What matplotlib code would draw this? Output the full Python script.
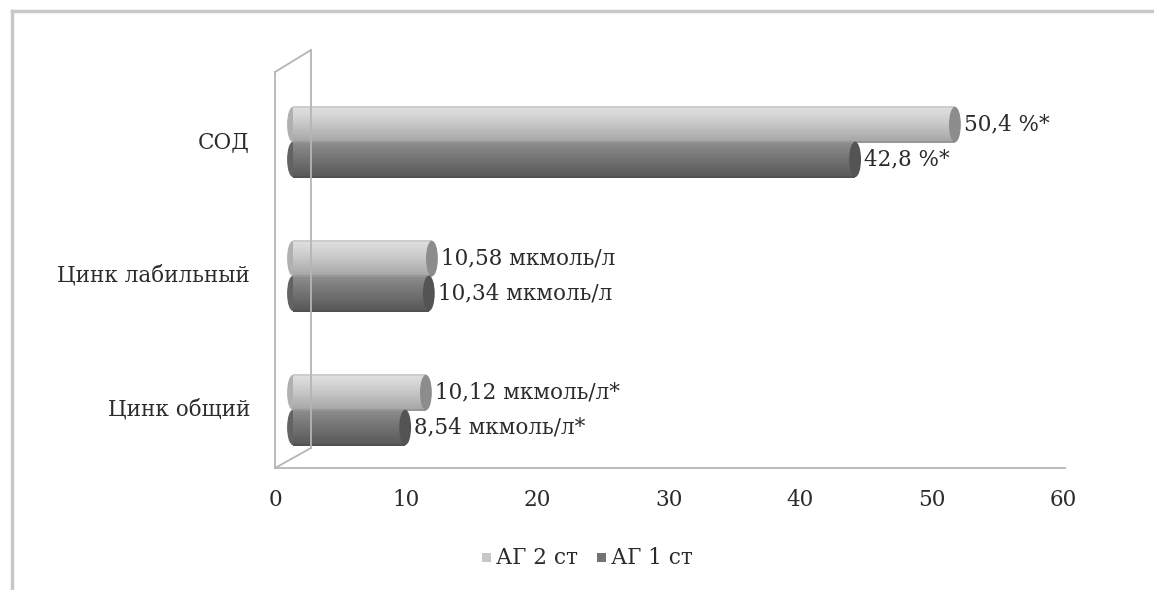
import matplotlib.pyplot as plt
import matplotlib.transforms as mtransforms
from matplotlib.patches import Ellipse, Rectangle
from matplotlib.lines import Line2D
import numpy as np

categories = ["Цинк общий", "Цинк лабильный", "СОД"]
ag2 = [10.12, 10.58, 50.4]
ag1 = [8.54, 10.34, 42.8]
ag2_labels = ["10,12 мкмоль/л*", "10,58 мкмоль/л", "50,4 %*"]
ag1_labels = ["8,54 мкмоль/л*", "10,34 мкмоль/л", "42,8 %*"]
xticks = [0, 10, 20, 30, 40, 50, 60]

plt.rcParams['font.family'] = ['DejaVu Serif']
FS = 15.5
TXT = "#2b2b2b"

W, H = 1154, 590
fig = plt.figure(figsize=(W / 100, H / 100), dpi=100)

# axes placed so that 0..60 spans x=275..1063 px, floor at y=468 px
ax = fig.add_axes([275 / W, 1 - 468 / H, 788 / W, 396 / H])
ax.set_xlim(0, 60)
ax.set_ylim(-0.433, 2.522)
ax.axis("off")

# 3D depth shift of the bars (pixels)
shift = mtransforms.ScaledTranslation(18 / 100, 0, fig.dpi_scale_trans)
tr = ax.transData + shift


def cylinder(y, value, h, top, mid, bot, cap):
    n = 24
    for k in range(n):
        t = (k + 0.5) / n  # 0 bottom .. 1 top
        if t > 0.6:
            c = mid + (top - mid) * (t - 0.6) / 0.4
        else:
            c = bot + (mid - bot) * t / 0.6
        if t < 0.06 or t > 0.95:
            c = c * 0.92
        ax.barh(y - h / 2 + (k + 0.5) * h / n, value, height=h / n * 1.05,
                left=0, color=str(c), linewidth=0, transform=tr, zorder=3)
    ell_w = 0.9
    ax.add_patch(Ellipse((value, y), ell_w, h * 0.98, facecolor=str(cap),
                         edgecolor="none", transform=tr, zorder=4))
    ax.add_patch(Ellipse((0, y), ell_w, h * 0.98, facecolor=str(bot + 0.05),
                         edgecolor="none", transform=tr, zorder=2))


bh = 0.27
off = 0.13
ypos = np.arange(len(categories))
for i in range(len(categories)):
    cylinder(ypos[i] - off, ag1[i], bh, 0.56, 0.47, 0.34, 0.33)
    cylinder(ypos[i] + off, ag2[i], bh, 0.88, 0.80, 0.64, 0.55)

for i in range(len(categories)):
    ax.annotate(ag2_labels[i], (ag2[i], ypos[i] + off), xytext=(27, 0),
                textcoords="offset pixels", va="center", ha="left",
                fontsize=FS, color=TXT)
    ax.annotate(ag1_labels[i], (ag1[i], ypos[i] - off), xytext=(27, 0),
                textcoords="offset pixels", va="center", ha="left",
                fontsize=FS, color=TXT)
    ax.annotate(categories[i], (0, ypos[i]), xytext=(-25, 0),
                textcoords="offset pixels", va="center", ha="right",
                fontsize=FS, color=TXT)

for v in xticks:
    ax.annotate(str(v), (v, -0.433), xytext=(0, -32),
                textcoords="offset pixels", va="center", ha="center",
                fontsize=FS, color=TXT)

# walls and floor of the 3D box, figure pixel coordinates
wall = "#b5b5b5"


def px_line(xs, ys, color=wall, lw=1.3):
    fig.add_artist(Line2D([x / W for x in xs], [1 - y / H for y in ys],
                          color=color, lw=lw))


px_line([275, 275], [468, 72])
px_line([275, 311], [72, 50])
px_line([311, 311], [50, 448])
px_line([275, 311], [468, 448])
px_line([275, 1065], [468, 468])

# outer frame
px_line([12, 1154], [11, 11], color="#c8c8c8", lw=2.5)
px_line([12, 12], [11, 590], color="#c8c8c8", lw=2.5)

# legend
for x0, col, txt in [(482, "0.78", "АГ 2 ст"), (597, "0.45", "АГ 1 ст")]:
    fig.add_artist(Rectangle((x0 / W, 1 - 562 / H), 9 / W, 9 / H,
                             facecolor=col, edgecolor="none",
                             transform=fig.transFigure))
    fig.text((x0 + 14) / W, 1 - 558 / H, txt, va="center", ha="left",
             fontsize=FS, color=TXT)

fig.savefig("out.png", dpi=100)
